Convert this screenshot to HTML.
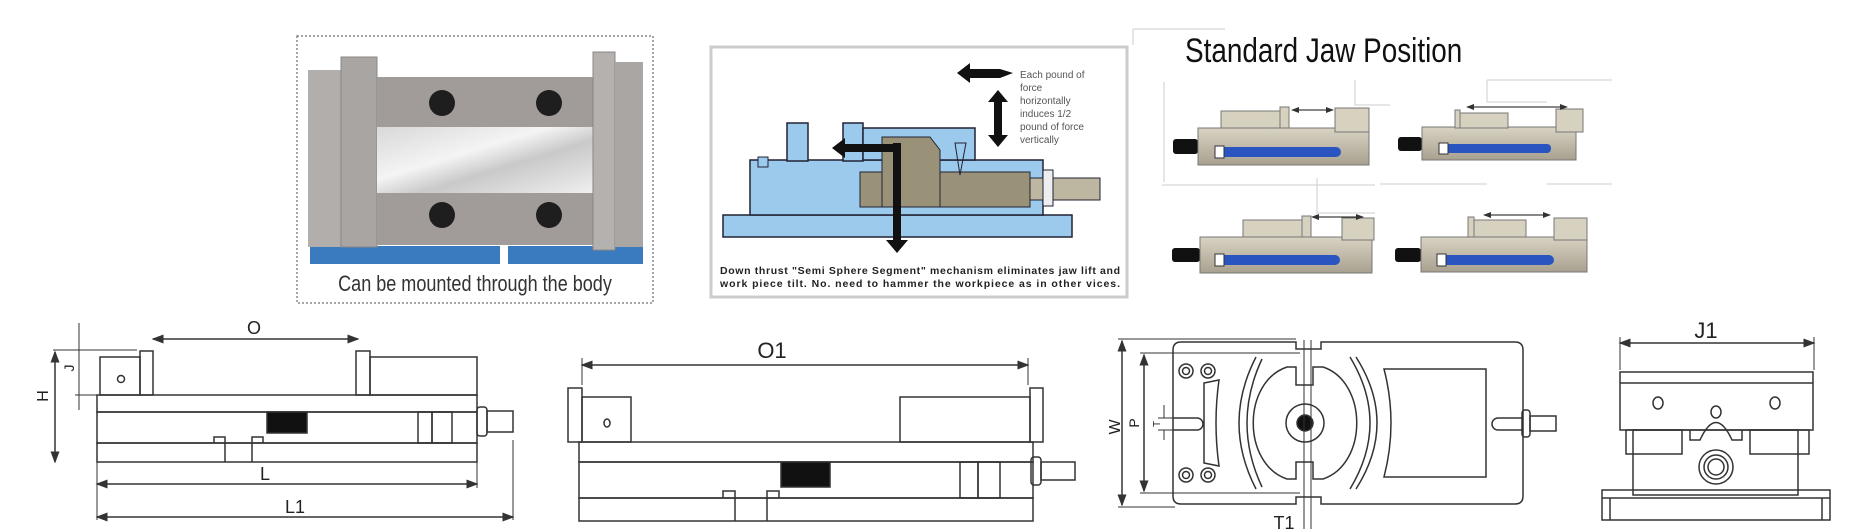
<!DOCTYPE html>
<html><head><meta charset="utf-8"><style>
html,body{margin:0;padding:0;background:#fff;}
svg{display:block;}
text{font-family:"Liberation Sans",sans-serif;}
</style></head><body>
<svg width="1861" height="529" viewBox="0 0 1861 529" xmlns="http://www.w3.org/2000/svg">
<defs>
<linearGradient id="silver" x1="0" y1="0" x2="1" y2="1">
<stop offset="0" stop-color="#d8d8d8"/><stop offset="0.4" stop-color="#f4f4f4"/><stop offset="0.6" stop-color="#c9c9c9"/><stop offset="1" stop-color="#efefef"/>
</linearGradient>
<linearGradient id="tan" x1="0" y1="0" x2="0" y2="1">
<stop offset="0" stop-color="#d9d3c3"/><stop offset="1" stop-color="#a8a190"/>
</linearGradient>
<marker id="ah" markerWidth="8" markerHeight="8" refX="7" refY="4" orient="auto"><path d="M0,1 L8,4 L0,7 Z" fill="#333"/></marker>
<marker id="ahs" markerWidth="8" markerHeight="8" refX="1" refY="4" orient="auto"><path d="M8,1 L0,4 L8,7 Z" fill="#333"/></marker>
</defs>

<!-- Panel 1 -->
<rect x="297" y="36" width="356" height="267" fill="#fff" stroke="#888" stroke-width="1.5" stroke-dasharray="2,2"/>
<path d="M310 246 h190 v18 h-190z M508 246 h135 v18 h-135z" fill="#3a7bbf"/>
<rect x="308" y="70" width="35" height="177" fill="#b2aeab"/>
<rect x="341" y="57" width="36" height="190" fill="#a9a5a2" stroke="#8a8684"/>
<rect x="377" y="77" width="216" height="50" fill="#a19c99"/>
<rect x="377" y="127" width="216" height="66" fill="url(#silver)"/>
<rect x="377" y="193" width="216" height="52" fill="#a19c99"/>
<rect x="593" y="52" width="22" height="198" fill="#b5b1ae" stroke="#8a8684"/>
<rect x="615" y="62" width="28" height="185" fill="#aaa6a3"/>
<ellipse cx="442" cy="103" rx="13" ry="13" fill="#1e1e1e"/><ellipse cx="549" cy="103" rx="13" ry="13" fill="#1e1e1e"/>
<ellipse cx="442" cy="215" rx="13" ry="13" fill="#1e1e1e"/><ellipse cx="549" cy="215" rx="13" ry="13" fill="#1e1e1e"/>
<text x="475" y="291" font-size="22" fill="#333" text-anchor="middle" transform="translate(475 0) scale(0.82 1) translate(-475 0)">Can be mounted through the body</text>

<!-- Panel 2 -->
<rect x="711" y="47" width="416" height="250" fill="#fff" stroke="#ccc" stroke-width="3"/>
<path d="M723 215 h349 v22 h-349z" fill="#9ccaec" stroke="#223" stroke-width="1.5"/>
<rect x="750" y="160" width="293" height="55" fill="#9ccaec" stroke="#223" stroke-width="1.5"/>
<rect x="787" y="123" width="21" height="38" fill="#9ccaec" stroke="#223" stroke-width="1.5"/>
<rect x="843" y="123" width="20" height="38" fill="#9ccaec" stroke="#223" stroke-width="1.5"/>
<rect x="863" y="128" width="112" height="32" fill="#9ccaec" stroke="#223" stroke-width="1.5"/>
<rect x="758" y="157" width="10" height="10" fill="#9ccaec" stroke="#223"/>
<rect x="860" y="172" width="170" height="35" fill="#9a9278" stroke="#223"/>
<path d="M882 137 L930 137 L940 150 L940 207 L882 207 Z" fill="#9a9278" stroke="#223"/>
<path d="M955 143 L966 143 L960 175 Z" fill="none" stroke="#223"/>
<rect x="1030" y="178" width="70" height="22" fill="#bdb6a0" stroke="#223"/>
<rect x="1043" y="170" width="10" height="36" fill="#eee" stroke="#223"/>
<path d="M832 148 L845 138 V144 H897 V152 H845 V158 Z" fill="#111"/>
<path d="M893 143 H901 V240 H908 L897 253 L886 240 H893 Z" fill="#111"/>
<path d="M957 73 L970 63 V69 H1000 L1013 73 L1000 78 H970 V83 Z" fill="#111"/>
<path d="M998 90 L1008 102 H1002 V135 H1008 L998 147 L988 135 H994 V102 H988 Z" fill="#111"/>
<g font-size="10" fill="#555">
<text x="1020" y="78">Each pound of</text><text x="1020" y="91">force</text><text x="1020" y="104">horizontally</text><text x="1020" y="117">induces 1/2</text><text x="1020" y="130">pound of force</text><text x="1020" y="143">vertically</text>
</g>
<g font-size="10.5" font-weight="bold" fill="#222">
<text x="720" y="274" textLength="400">Down thrust "Semi Sphere Segment" mechanism eliminates jaw lift and</text>
<text x="720" y="287" textLength="400">work piece tilt. No. need to hammer the workpiece as in other vices.</text>
</g>

<!-- Panel 3 -->
<g stroke="#ccc" stroke-width="1" fill="none">
<path d="M1133 29 H1225 M1133 29 V45 M1164 82 V182 M1162 185 H1375 M1380 184 H1487 M1547 184 H1612 M1355 80 V105 H1390 M1487 80 V102 H1547 M1487 80 H1612 M1317 178 V213 H1375"/>
</g>
<text x="1185" y="62" font-size="34" fill="#111" transform="translate(1185 0) scale(0.82 1) translate(-1185 0)">Standard Jaw Position</text>

<g>
<rect x="1173" y="139" width="25" height="15" rx="3" fill="#111"/>
<rect x="1198" y="128" width="171" height="37" fill="url(#tan)" stroke="#777"/>
<rect x="1221" y="111" width="59" height="17" fill="#d7d1c0" stroke="#777"/>
<rect x="1280" y="107" width="9" height="21" fill="#d7d1c0" stroke="#777"/>
<rect x="1335" y="108" width="34" height="24" fill="#d7d1c0" stroke="#777"/>
<rect x="1215" y="147" width="126" height="10" rx="5" fill="#2a55c0"/>
<rect x="1215" y="146" width="9" height="12" fill="#fff" stroke="#333"/>
<line x1="1292" y1="110" x2="1333" y2="110" stroke="#111" marker-end="url(#ah)" marker-start="url(#ahs)"/>
</g>
<g>
<rect x="1398" y="137" width="24" height="14" rx="3" fill="#111"/>
<rect x="1422" y="127" width="154" height="33" fill="url(#tan)" stroke="#777"/>
<rect x="1458" y="113" width="50" height="15" fill="#d7d1c0" stroke="#777"/>
<rect x="1455" y="110" width="5" height="18" fill="#d7d1c0" stroke="#777"/>
<rect x="1556" y="109" width="27" height="23" fill="#d7d1c0" stroke="#777"/>
<rect x="1439" y="144" width="112" height="9" rx="4" fill="#2a55c0"/>
<rect x="1439" y="143" width="9" height="11" fill="#fff" stroke="#333"/>
<line x1="1467" y1="107" x2="1567" y2="107" stroke="#111" marker-end="url(#ah)" marker-start="url(#ahs)"/>
</g>
<g>
<rect x="1172" y="248" width="28" height="14" rx="3" fill="#111"/>
<rect x="1200" y="237" width="172" height="36" fill="url(#tan)" stroke="#777"/>
<rect x="1243" y="220" width="61" height="17" fill="#d7d1c0" stroke="#777"/>
<rect x="1302" y="216" width="9" height="21" fill="#d7d1c0" stroke="#777"/>
<rect x="1342" y="218" width="32" height="22" fill="#d7d1c0" stroke="#777"/>
<rect x="1215" y="255" width="125" height="10" rx="5" fill="#2a55c0"/>
<rect x="1215" y="254" width="9" height="12" fill="#fff" stroke="#333"/>
<line x1="1312" y1="217" x2="1363" y2="217" stroke="#111" marker-end="url(#ah)" marker-start="url(#ahs)"/>
</g>
<g>
<rect x="1395" y="248" width="26" height="14" rx="3" fill="#111"/>
<rect x="1421" y="237" width="166" height="35" fill="url(#tan)" stroke="#777"/>
<rect x="1470" y="220" width="56" height="17" fill="#d7d1c0" stroke="#777"/>
<rect x="1468" y="217" width="6" height="20" fill="#d7d1c0" stroke="#777"/>
<rect x="1554" y="218" width="33" height="22" fill="#d7d1c0" stroke="#777"/>
<rect x="1437" y="255" width="117" height="10" rx="5" fill="#2a55c0"/>
<rect x="1437" y="254" width="9" height="12" fill="#fff" stroke="#333"/>
<line x1="1484" y1="215" x2="1550" y2="215" stroke="#111" marker-end="url(#ah)" marker-start="url(#ahs)"/>
</g>

<!-- Bottom drawings -->
<g stroke="#333" stroke-width="1.5" fill="none">
<line x1="153" y1="339" x2="358" y2="339" marker-end="url(#ah)" marker-start="url(#ahs)"/>
<line x1="53" y1="350" x2="137" y2="350" stroke-width="1"/>
<line x1="75" y1="395" x2="100" y2="395" stroke-width="1"/>
<line x1="55" y1="352" x2="55" y2="462" marker-end="url(#ah)" marker-start="url(#ahs)"/>
<line x1="79" y1="323" x2="79" y2="410" stroke-width="1"/>
<rect x="140" y="351" width="13" height="44"/>
<rect x="356" y="351" width="14" height="44"/>
<rect x="100" y="357" width="40" height="38"/>
<circle cx="121" cy="379" r="3.5"/>
<rect x="370" y="357" width="107" height="38"/>
<rect x="97" y="395" width="380" height="17"/>
<rect x="97" y="412" width="380" height="31"/>
<rect x="267" y="412" width="40" height="21" fill="#111"/>
<rect x="97" y="443" width="380" height="19"/>
<path d="M214 443 V437 H225 V443 M252 443 V437 H263 V443 M225 443 V462 M252 443 V462"/>
<rect x="418" y="412" width="14" height="31"/>
<rect x="432" y="412" width="20" height="31"/>
<rect x="477" y="407" width="10" height="29" rx="3"/>
<rect x="487" y="411" width="26" height="21"/>
<line x1="97" y1="462" x2="97" y2="520" stroke-width="1"/>
<line x1="513" y1="440" x2="513" y2="520" stroke-width="1"/>
<line x1="477" y1="462" x2="477" y2="488" stroke-width="1"/>
<line x1="97" y1="484" x2="477" y2="484" marker-end="url(#ah)" marker-start="url(#ahs)"/>
<line x1="97" y1="517" x2="513" y2="517" marker-end="url(#ah)" marker-start="url(#ahs)"/>

<line x1="582" y1="365" x2="1028" y2="365" marker-end="url(#ah)" marker-start="url(#ahs)"/>
<line x1="582" y1="358" x2="582" y2="385" stroke-width="1"/>
<line x1="1028" y1="358" x2="1028" y2="385" stroke-width="1"/>
<rect x="568" y="388" width="14" height="54"/>
<rect x="582" y="397" width="49" height="45"/>
<ellipse cx="607" cy="423" rx="3" ry="4"/>
<rect x="900" y="397" width="130" height="45"/>
<rect x="1030" y="388" width="13" height="54"/>
<rect x="579" y="442" width="454" height="20"/>
<rect x="579" y="462" width="454" height="36"/>
<rect x="781" y="462" width="49" height="25" fill="#111"/>
<rect x="579" y="498" width="454" height="23"/>
<path d="M723 498 V491 H735 V498 M767 498 V491 H779 V498 M735 498 V521 M767 498 V521"/>
<rect x="960" y="462" width="18" height="36"/>
<rect x="978" y="462" width="22" height="36"/>
<rect x="1031" y="457" width="10" height="28" rx="3"/>
<rect x="1041" y="462" width="34" height="18"/>

<path d="M1181 342 H1296 V349 H1321 V342 H1515 Q1523 342 1523 350 V496 Q1523 504 1515 504 H1321 V497 H1296 V504 H1181 Q1173 504 1173 496 V350 Q1173 342 1181 342 Z"/>
<line x1="1122" y1="341" x2="1122" y2="505" marker-end="url(#ah)" marker-start="url(#ahs)"/>
<line x1="1118" y1="339" x2="1296" y2="339" stroke-width="1"/>
<line x1="1118" y1="507" x2="1175" y2="507" stroke-width="1"/>
<line x1="1144" y1="355" x2="1144" y2="491" marker-end="url(#ah)" marker-start="url(#ahs)"/>
<line x1="1140" y1="353" x2="1300" y2="353" stroke-width="1"/>
<line x1="1140" y1="493" x2="1300" y2="493" stroke-width="1"/>
<path d="M1164 405 V418 M1164 430 V440" stroke-width="1"/>
<line x1="1158" y1="418" x2="1173" y2="418" stroke-width="1"/>
<line x1="1158" y1="430" x2="1173" y2="430" stroke-width="1"/>
<circle cx="1186" cy="371" r="7"/><circle cx="1186" cy="371" r="3.5"/>
<circle cx="1208" cy="371" r="7"/><circle cx="1208" cy="371" r="3.5"/>
<circle cx="1186" cy="475" r="7"/><circle cx="1186" cy="475" r="3.5"/>
<circle cx="1208" cy="475" r="7"/><circle cx="1208" cy="475" r="3.5"/>
<path d="M1173 418 H1197 A6 6 0 0 1 1197 430 H1173"/>
<path d="M1204 383 L1219 380 Q1213 423 1219 466 L1204 463 Z"/>
<path d="M1256 357 Q1222 423 1256 489 M1262 359 Q1232 423 1262 487"/>
<path d="M1350 357 Q1390 423 1350 489 M1356 357 Q1398 423 1356 489"/>
<path d="M1287 367 H1296 V385 H1313 V367 H1323 C1368 382 1368 464 1323 479 H1313 V462 H1296 V479 H1287 C1242 464 1242 382 1287 367 Z"/>
<circle cx="1305" cy="423" r="19"/>
<circle cx="1305" cy="423" r="8" fill="#111"/>
<path d="M1384 369 H1486 V477 H1384 Q1398 423 1384 369 Z"/>
<path d="M1522 418 H1498 A6 6 0 0 0 1498 430 H1522"/>
<rect x="1522" y="410" width="8" height="27" rx="3"/>
<rect x="1530" y="416" width="26" height="15"/>
<path d="M1304 340 V529 M1311 340 V529" stroke-width="1"/>

<line x1="1620" y1="343" x2="1814" y2="343" marker-end="url(#ah)" marker-start="url(#ahs)"/>
<line x1="1620" y1="337" x2="1620" y2="370" stroke-width="1"/>
<line x1="1814" y1="337" x2="1814" y2="370" stroke-width="1"/>
<rect x="1620" y="372" width="193" height="58"/>
<line x1="1620" y1="383" x2="1813" y2="383"/>
<ellipse cx="1658" cy="403" rx="5" ry="6"/>
<ellipse cx="1716" cy="412" rx="5" ry="6"/>
<ellipse cx="1775" cy="403" rx="5" ry="6"/>
<rect x="1633" y="430" width="165" height="65"/>
<path d="M1626 430 H1682 V454 H1626 Z M1750 430 H1809 V454 H1750 Z"/>
<path d="M1690 430 V440 H1700 Q1716 405 1732 440 H1742 V430"/>
<circle cx="1716" cy="467" r="17"/><circle cx="1716" cy="467" r="12"/><circle cx="1716" cy="467" r="8"/>
<rect x="1602" y="490" width="228" height="30"/>
<path d="M1610 498 V520 M1822 498 V520 M1602 498 H1830"/>
</g>

<g fill="#222" font-size="18" text-anchor="middle">
<text x="254" y="334">O</text>
<text x="772" y="358" font-size="22">O1</text>
<text x="265" y="480">L</text>
<text x="295" y="513">L1</text>
<text x="1706" y="338" font-size="22">J1</text>
<text x="1284" y="529">T1</text>
<text transform="translate(48 396) rotate(-90)" font-size="16">H</text>
<text transform="translate(74 368) rotate(-90)" font-size="14">J</text>
<text transform="translate(1120 427) rotate(-90)" font-size="16">W</text>
<text transform="translate(1139 423) rotate(-90)" font-size="14">P</text>
<text transform="translate(1160 424) rotate(-90)" font-size="10">T</text>
</g>
</svg>
</body></html>
